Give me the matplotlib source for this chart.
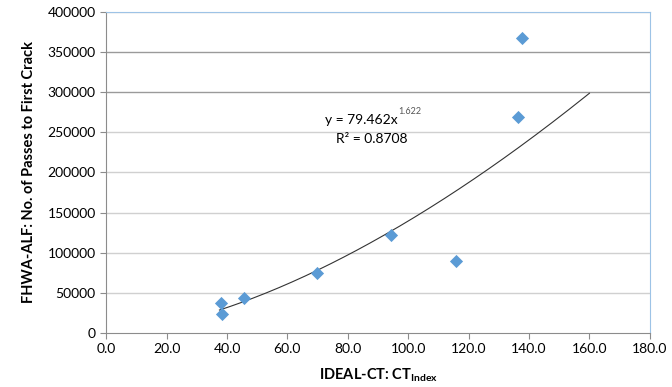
# Power trend of ALF passes vs IDEAL-CT index
import numpy as np
import matplotlib.pyplot as plt

plt.rcParams['font.family'] = ['Lato', 'DejaVu Sans']
plt.rcParams['mathtext.fontset'] = 'custom'
plt.rcParams['mathtext.rm'] = 'Lato'
plt.rcParams['mathtext.bf'] = 'Lato:bold'

# Data
ct_index = [37.9, 38.4, 45.5, 69.8, 94.2, 115.8, 136.5, 137.6]
passes = [37500, 22900, 43300, 74500, 122400, 89500, 269700, 367500]

# Trendline y = a * x^b
coef_a = 79.462
coef_b = 1.622
trend_range = [37.5, 160.0]

x_ticks = [0, 20, 40, 60, 80, 100, 120, 140, 160, 180]
y_ticks = [0, 50000, 100000, 150000, 200000, 250000, 300000, 350000, 400000]

fig = plt.figure(figsize=(6.72, 3.87), dpi=100)
ax = fig.add_axes([0.158, 0.140, 0.809, 0.829])

# gridlines
for yv in y_ticks[1:]:
    col = '#9a9a9a' if yv in (300000, 350000) else '#d0d0d0'
    ax.axhline(yv, color=col, lw=1.0, zorder=0)

xt = np.linspace(trend_range[0], trend_range[1], 200)
ax.plot(xt, coef_a * xt ** coef_b, color='#333333', lw=0.8, zorder=2)

ax.scatter(ct_index, passes, marker='D', s=45, color='#5B9BD5', zorder=3, linewidths=0)

ax.set_xlim(0, 180)
ax.set_ylim(0, 400000)
ax.set_xticks(x_ticks)
ax.set_xticklabels([f'{v:.1f}' for v in x_ticks])
ax.set_yticks(y_ticks)
ax.tick_params(axis='both', labelsize=10, color='#8c8c8c', length=4, direction='out')

for s in ['left', 'bottom']:
    ax.spines[s].set_color('#8c8c8c')
for s in ['top', 'right']:
    ax.spines[s].set_color('#9dc3e6')

# trendline label
ax.text(96.5, 265000, 'y = 79.462x', ha='right', va='center', fontsize=10)
ax.annotate('1.622', xy=(96.5, 265000), xytext=(0.5, 3), textcoords='offset points',
            ha='left', va='bottom', fontsize=6.5, color='#555555')
ax.text(88.0, 242000, 'R² = 0.8708', ha='center', va='center', fontsize=10)

ax.set_xlabel('IDEAL-CT: CT$_{\\mathbf{Index}}$', fontsize=10.5, fontweight='bold', labelpad=8)
ax.set_ylabel('FHWA-ALF: No. of Passes to First Crack', fontsize=10.5, fontweight='bold', labelpad=8)

fig.savefig('out.png', dpi=100)
